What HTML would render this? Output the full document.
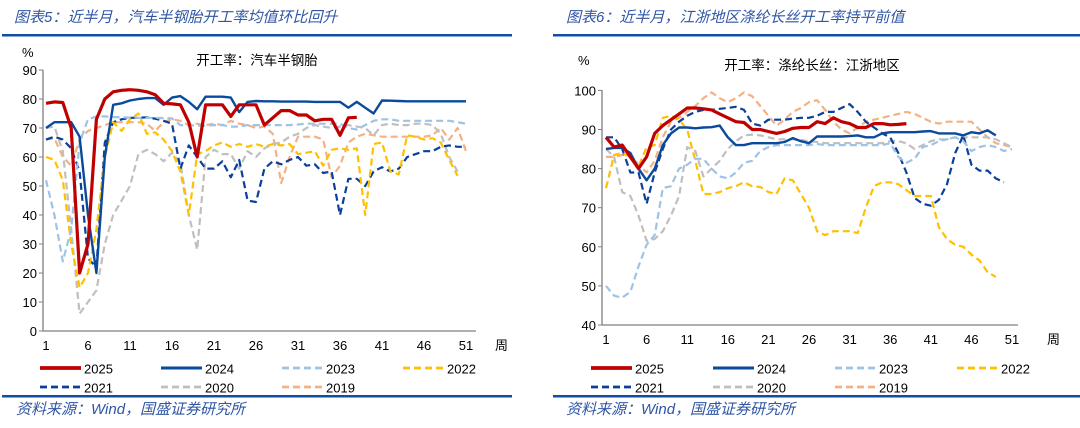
<!DOCTYPE html>
<html><head><meta charset="utf-8">
<style>
html,body{margin:0;padding:0;background:#fff;}
body{width:1080px;height:423px;overflow:hidden;}
svg text{font-family:"Liberation Sans","Noto Sans CJK SC",sans-serif;}
.ttl{font-family:"Liberation Sans","Noto Sans CJK SC",sans-serif;font-style:italic;fill:#2f55a4;font-size:15px;}
.tk{font-size:13px;fill:#000;}
.ct{font-size:13.5px;fill:#000;font-family:"Noto Sans CJK SC",sans-serif;}
</style></head><body>
<svg id="s" width="1080" height="423" viewBox="0 0 1080 423" xmlns="http://www.w3.org/2000/svg">
<text class="ttl" x="14" y="22">图表5：近半月，汽车半钢胎开工率均值环比回升</text>
<text class="ttl" x="566" y="22">图表6：近半月，江浙地区涤纶长丝开工率持平前值</text>
<rect x="2" y="34" width="510" height="2.5" fill="#0f4ea0"/>
<rect x="553" y="34" width="527" height="2.5" fill="#0f4ea0"/>
<rect x="2" y="395" width="510" height="2.5" fill="#0f4ea0"/>
<rect x="553" y="395" width="527" height="2.5" fill="#0f4ea0"/>
<text class="ttl" x="16" y="414">资料来源：Wind，国盛证券研究所</text>
<text class="ttl" x="566" y="414">资料来源：Wind，国盛证券研究所</text>
<text class="tk" x="22" y="57">%</text>
<text class="ct" x="257" y="65" text-anchor="middle">开工率：汽车半钢胎</text>
<text class="tk" x="578" y="65">%</text>
<text class="ct" x="812" y="70" text-anchor="middle">开工率：涤纶长丝：江浙地区</text>
<g id="g"></g>
</svg>
<script>
var NS="http://www.w3.org/2000/svg",g=document.getElementById('g');
function el(t,a,txt){var e=document.createElementNS(NS,t);for(var k in a)e.setAttribute(k,a[k]);if(txt!==undefined)e.textContent=txt;g.appendChild(e);return e;}
var styles={
'2025':{c:'#c00000',w:3.2,d:''},
'2024':{c:'#0a4a9c',w:2.4,d:''},
'2023':{c:'#9dc3e6',w:2.2,d:'7,4'},
'2022':{c:'#ffc000',w:2.2,d:'7,4'},
'2021':{c:'#0a3f9a',w:2.2,d:'7,4'},
'2020':{c:'#bfbfbf',w:2.2,d:'7,4'},
'2019':{c:'#f4b183',w:2.2,d:'7,4'}};
var order=['2019','2020','2021','2022','2023','2024','2025'];
function chart(o){
 // axes
 el('line',{x1:o.ax,y1:o.top,x2:o.ax,y2:o.bot,stroke:'#808080','stroke-width':1.3});
 el('line',{x1:o.ax,y1:o.bot,x2:o.axEnd,y2:o.bot,stroke:'#808080','stroke-width':1.3});
 for(var v=o.min;v<=o.max;v+=o.step){var y=o.bot-(v-o.min)*o.ppu;
  el('line',{x1:o.ax-4,y1:y,x2:o.ax,y2:y,stroke:'#808080','stroke-width':1});
  el('text',{x:o.ax-6,y:y+5,'text-anchor':'end','class':'tk'},v);}
 for(var w=1;w<=51;w+=5){el('text',{x:o.x0+(w-1)*o.pw,y:o.bot+19,'text-anchor':'middle','class':'tk'},w);}
 el('text',{x:o.zhou,y:o.bot+19,'class':'tk'},'周');
 order.forEach(function(k){var d=o.data[k],s=styles[k],p=[];
  d.forEach(function(v,i){p.push((o.x0+i*o.pw).toFixed(1)+','+(o.bot-(v-o.min)*o.ppu).toFixed(1));});
  var a={points:p.join(' '),fill:'none',stroke:s.c,'stroke-width':s.w,'stroke-linejoin':'round'};if(s.d)a['stroke-dasharray']=s.d;
  el('polyline',a);});
 var lg=[['2025',0,0],['2024',1,0],['2023',2,0],['2022',3,0],['2021',0,1],['2020',1,1],['2019',2,1]];
 lg.forEach(function(l){var s=styles[l[0]],x=o.lx+l[1]*o.lsp,y=368+l[2]*19;
  var a={x1:x,y1:y,x2:x+41,y2:y,stroke:s.c,'stroke-width':s.w+0.6};if(s.d)a['stroke-dasharray']='7,4';el('line',a);
  el('text',{x:x+44,y:y+5.5,'class':'tk','font-size':'14'},l[0]);});
}
chart({ax:43,axEnd:476,top:70,bot:331,min:0,max:90,step:10,ppu:2.9,x0:46,pw:8.4,zhou:495,lx:40,lsp:121,data:{
'2025':[78.5,79,78.8,70,20,30,73,80,82.5,83,83.2,83,82.5,81.5,78.5,78.3,78,72,60,78,78,78,74,78,78,78,71,73.5,76,76,74.5,74.5,72.5,73,73,67.5,73.5,73.7],
'2024':[70,72,72,72,67,40,20,60,78,78.5,79.5,80,80.3,80.3,78,80.5,81,79,76.5,80.8,80.8,80.8,80.5,75.5,79,79.3,79.2,79.2,79.1,79.1,79.1,79.1,79,79,79,79,77,79,77,75,79.5,79.4,79.3,79.2,79.2,79.2,79.2,79.2,79.2,79.2,79.2],
'2023':[52,40,24,35,65,73,74,74,73.8,73.7,73.6,73.5,73.5,73.5,73.4,73.3,71,71,70.8,70.8,71,71,70.5,70.5,71,71,71,71,71,71,71.2,71.5,71.5,71.5,71.5,71.5,70,69.5,71,72.5,73,73,72.5,72.5,72.5,72.5,72.5,72.5,72.5,72,71.5],
'2022':[60,59,52,30,15,20,35,60,72,69,73,75,68,68.5,66,62,55,40,61,62,64,65,63.5,64.5,63.5,64.5,63.5,64.5,64,64.5,61,61.5,62,57,62.5,63,62.5,63,40,64.5,65,55,54,67.5,67,66,66.5,65,59,53.5],
'2021':[66,67,66,63,55,25,22,65,72,73,73.5,73.5,73.7,73.2,72.5,71.5,56,64,60,56,56,58.5,53,59,45,44.5,56,58.5,57.5,59,60,57,57.5,54.5,55,40,52.5,52.5,50,55,56.5,55,56,60,61,62,62,63.5,64,63.5,63.5],
'2020':[70,70.5,62,35,6,10,14,30,40,45,50,61,62.5,61,58.5,61.5,58,40,28,60,62.5,61,61,56,62,60,63,64.5,65,67,68,70,71,70.5,70,70.5,71,70.5,70,67.5,71,71.5,71,71,71.5,71.5,71,68,60,55],
'2019':[66,66.5,60,57,66,69,70,71,72,72,72,72,71.5,69,72,73,72.5,71,71.5,71,71.5,71,72.5,71.5,71,70,70.5,68,51,60,67,67,67,66,53,57,65,67,68,67.5,67,67,67,67,67,67,67.5,70,66,70,62]}});
chart({ax:602,axEnd:1018,top:90,bot:325,min:40,max:100,step:10,ppu:3.91,x0:606,pw:8.12,zhou:1047,lx:591,lsp:122,data:{
'2025':[88,85.5,86,83,80,83,89,91,92.5,94,95.5,95.5,95.3,95,94,93,92,91.8,90,90,89.5,89,89.5,90.3,90.5,90.5,92,91.5,93,92,91.5,90.5,90.5,91.5,91.5,91.2,91.3,91.5],
'2024':[85,85.3,85.3,84,80,77,80,86,89,90.5,90.5,90.3,90.5,90.6,91,88,86,86,86.5,86.5,86.5,86.5,86.8,87.8,87,86.5,88.2,88.2,88.2,88.2,88.3,88.5,88,88,89,89.3,89.3,89.3,89.3,89.5,89.6,89,89,89,88.5,89.3,89,89.8,88.5],
'2023':[50,47.5,47,48.5,55,60.5,63,75,75.5,80,81,82.5,82.5,80,78,77.5,79,81.5,82,84.5,85.5,86,86,86,86,86,86.3,86,86,86,86,86,86,86,86,86.5,83,81.5,82.5,85.5,86,87,87.5,88,87,84.5,85.5,86,85.5,84.5,85],
'2022':[75,83.5,84,83,80.5,85.5,86,93,93.5,92.5,90,82,73.5,73.5,74,75,75.5,76.5,75.5,75.3,74,73.5,77.5,77,73.5,70,64,63,64,64,64,63.5,70,75.5,76.5,76.5,76,74.5,73,73,73,65,62,60.5,60,58,56.5,53.5,52.3],
'2021':[88,88,85,79,79,71,79,85,90,92,93.5,94.5,95,95,95.3,95.5,95.8,95,91.5,91,92.5,92.5,92.5,92.8,93,93,93.5,94.5,94.5,95.5,96.5,94.5,92,90.5,89,88,84,79,72.5,71,70.5,72,76,84,88.5,81,79.5,79.5,77.5,76.5],
'2020':[85,83,74,73,68,61.5,62,64,68,73,85.5,84.5,78,80,82,85,87,88.5,88.7,88.5,88,87.5,87.5,87.5,87.3,87,86.8,86.5,86.5,86.5,86.5,86.5,86.5,86.5,86.5,87,87,86.5,85,86,87,87.5,87.5,88,88,88,88,88,87.5,86.5,85.5],
'2019':[83,83,83.5,83.5,81,79,82,88,92,93,94.5,96,98,99.5,98,97,98,99.5,98.5,96,93.5,91,92.5,94.5,95.5,97,97.5,95,92,90,89,90.5,92,92.5,93,93.5,94,94.5,94,93,92,91.5,92,92,92,92,90,88,86.5,86,85.5]}});
</script>
</body></html>
